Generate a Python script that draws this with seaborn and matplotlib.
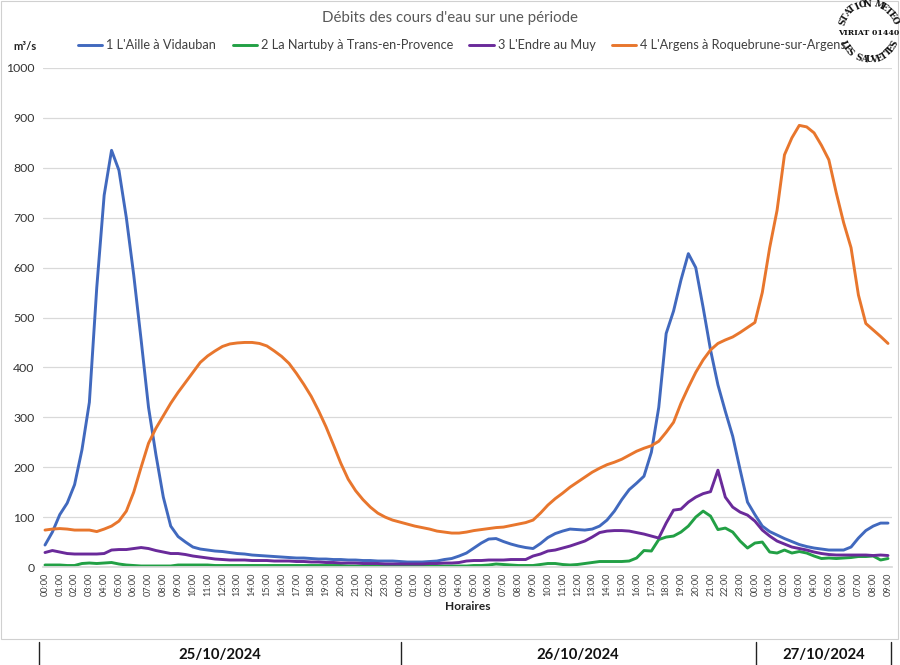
import numpy as np
import pandas as pd
import matplotlib
matplotlib.use("Agg")
import matplotlib.pyplot as plt
import matplotlib.transforms as mtransforms
from matplotlib.lines import Line2D
from matplotlib.patches import Rectangle
import seaborn as sns

# ---------------- data (30-min steps, hours since 25/10/2024 00:00) ----------------
hours = np.arange(0, 57.5, 0.5)
tick_hours = list(range(58))
tick_labels = [f"{h % 24:02d}:00" for h in tick_hours]
dates = ["25/10/2024", "26/10/2024", "27/10/2024"]
date_bounds = [-0.4, 24.05, 48.05, 57.2]

series_names = ["1 L'Aille à Vidauban",
                "2 La Nartuby à Trans-en-Provence",
                "3 L'Endre au Muy",
                "4 L'Argens à Roquebrune-sur-Argens"]

aille = [44, 70, 105, 128, 165, 235, 330, 560, 745, 835,
         795, 700, 585, 455, 320, 225, 140, 82, 61, 50,
         40, 36, 34, 32, 31, 29, 27, 26, 24, 23,
         22, 21, 20, 19, 18, 18, 17, 16, 16, 15,
         15, 14, 14, 13, 13, 12, 12, 12, 11, 10,
         10, 10, 11, 12, 15, 17, 22, 28, 38, 48,
         56, 57, 51, 46, 42, 39, 37, 47, 59, 67,
         72, 76, 75, 74, 76, 82, 94, 112, 135, 155,
         168, 182, 230, 320, 468, 513, 575, 628, 600, 520,
         435, 365, 312, 262, 195, 130, 105, 82, 71, 64,
         57, 51, 45, 41, 38, 36, 34, 34, 34, 40,
         58, 73, 82, 88, 88]

nartuby = [4, 4, 4, 3, 3, 7, 8, 7, 8, 9,
           6, 4, 3, 2, 2, 2, 2, 2, 4, 4,
           4, 4, 4, 3, 3, 3, 3, 3, 3, 3,
           3, 3, 3, 3, 3, 3, 3, 3, 3, 3,
           3, 2, 2, 2, 2, 2, 2, 2, 2, 2,
           2, 2, 2, 2, 2, 2, 2, 2, 3, 3,
           4, 6, 5, 4, 3, 3, 3, 5, 7, 7,
           5, 4, 5, 7, 9, 11, 11, 11, 11, 12,
           18, 33, 32, 55, 60, 62, 70, 82, 100, 112,
           102, 75, 78, 70, 52, 38, 48, 50, 30, 28,
           34, 28, 31, 28, 22, 17, 18, 17, 18, 19,
           21, 21, 22, 14, 17]

endre = [29, 33, 30, 27, 26, 26, 26, 26, 27, 34,
         35, 35, 37, 39, 37, 33, 30, 27, 27, 25,
         22, 20, 18, 16, 15, 14, 14, 14, 13, 13,
         13, 12, 12, 12, 11, 11, 10, 10, 9, 9,
         8, 8, 8, 7, 7, 7, 6, 6, 6, 6,
         6, 6, 7, 7, 8, 8, 9, 12, 13, 13,
         14, 14, 14, 15, 15, 15, 22, 26, 32, 34,
         38, 42, 47, 52, 60, 69, 72, 73, 73, 72,
         69, 66, 62, 58, 88, 114, 116, 130, 140, 147,
         151, 194, 140, 120, 110, 104, 92, 74, 62, 52,
         46, 40, 37, 34, 30, 27, 25, 24, 24, 24,
         24, 24, 23, 24, 23]

argens = [74, 76, 77, 76, 74, 74, 74, 71, 76, 82,
          92, 112, 150, 200, 248, 278, 303, 328, 350, 370,
          390, 410, 423, 433, 442, 447, 449, 450, 450, 448,
          443, 433, 422, 408, 388, 366, 342, 313, 281, 245,
          208, 176, 153, 135, 120, 108, 100, 94, 90, 86,
          82, 79, 76, 72, 70, 68, 68, 70, 73, 75,
          77, 79, 80, 83, 86, 89, 94, 108, 124, 137,
          148, 160, 170, 180, 190, 198, 205, 210, 216, 224,
          232, 238, 243, 252, 270, 290, 328, 360, 390, 415,
          435, 448, 455, 461, 470, 480, 490, 550, 640, 715,
          826, 860, 885, 882, 870, 845, 816, 750, 690, 640,
          545, 488, 475, 462, 448]

values = [aille, nartuby, endre, argens]
colors = ["#4169BE", "#22A045", "#6A2A9A", "#E8762D"]

df = pd.concat([pd.DataFrame({"h": hours, "v": v, "serie": n})
                for n, v in zip(series_names, values)], ignore_index=True)

# ---------------- figure ----------------
sns.set_theme(style="white")
plt.rcParams["font.family"] = ["Lato", "DejaVu Sans"]

W, H = 900, 665
fig = plt.figure(figsize=(9, 6.65), dpi=100)
ax = fig.add_axes([43 / W, 98 / H, 849 / W, 499 / H])

sns.lineplot(data=df, x="h", y="v", hue="serie", hue_order=series_names,
             palette=colors, linewidth=2.1, ax=ax, legend=True)

handles, labels = ax.get_legend_handles_labels()
ax.get_legend().remove()
fig.legend(handles, labels, loc="center", bbox_to_anchor=(462 / W, (H - 45) / H),
           ncol=4, frameon=False, fontsize=9.2, handlelength=1.9,
           handletextpad=0.3, columnspacing=1.3, labelcolor="#404040")

ax.set_xlim(-0.135, 57.27)
ax.set_ylim(0, 1000)
ax.set_yticks(range(0, 1001, 100))
ax.set_xticks(tick_hours)
ax.set_xticklabels(tick_labels, rotation=90)
ax.tick_params(axis="x", length=0, labelsize=6.6, colors="#404040", pad=4)
ax.tick_params(axis="y", length=0, labelsize=8.8, colors="#333333", pad=6)
ax.grid(axis="y", color="#d9d9d9", linewidth=0.9)
ax.grid(axis="x", visible=False)
for s in ["top", "right", "left"]:
    ax.spines[s].set_visible(False)
ax.spines["bottom"].set_color("#d9d9d9")
ax.set_ylabel("")
ax.set_xlabel("Horaires", fontsize=8.6, fontweight="bold", color="#222222")
ax.xaxis.set_label_coords(0.5, -0.068)
ax.xaxis.label.set_va("top")

fig.text(0.5, (H - 18) / H, "Débits des cours d'eau sur une période",
         ha="center", va="center", fontsize=10.8, color="#595959")
fig.text(25 / W, (H - 47) / H, "m³/s", ha="center", va="center",
         fontsize=8, fontweight="bold", color="#222222")

# date band
blend = mtransforms.blended_transform_factory(ax.transData, fig.transFigure)
for b in date_bounds:
    fig.add_artist(Line2D([b, b], [0, (H - 642) / H], transform=blend,
                          color="#222222", linewidth=1.0))
for i, d in enumerate(dates):
    xm = (date_bounds[i] + date_bounds[i + 1]) / 2
    fig.text(xm, (H - 655) / H, d, transform=blend, ha="center", va="center",
             fontsize=10.7, fontweight="bold", color="#111111")

# chart border
fig.add_artist(Rectangle((0.5 / W, (H - 639) / H), 897.5 / W, 638 / H,
                         transform=fig.transFigure, fill=False,
                         edgecolor="#d0d0d0", linewidth=0.8))

# stamp (top-right)
cx, cy, r = 869, 32, 28
def arc_text(txt, a0, a1, top=True):
    n = len(txt)
    for k, ch in enumerate(txt):
        a = np.radians(a0 + (a1 - a0) * k / max(n - 1, 1))
        x = cx + r * np.cos(a)
        y = cy - r * np.sin(a)
        rot = np.degrees(a) - 90 if top else np.degrees(a) + 90
        fig.text(x / W, (H - y) / H, ch, rotation=rot, ha="center", va="center",
                 fontsize=6.3, fontweight="bold", family="DejaVu Serif",
                 color="#111111", rotation_mode="anchor")
arc_text("STATION METEO", 160, 25, top=True)
arc_text("LES SAUVETTES", 205, 335, top=False)
fig.text(cx / W, (H - 33) / H, "VIRIAT 01440", ha="center", va="center",
         fontsize=5.6, fontweight="bold", family="DejaVu Serif", color="#111111")

fig.savefig("out.png", dpi=100)
